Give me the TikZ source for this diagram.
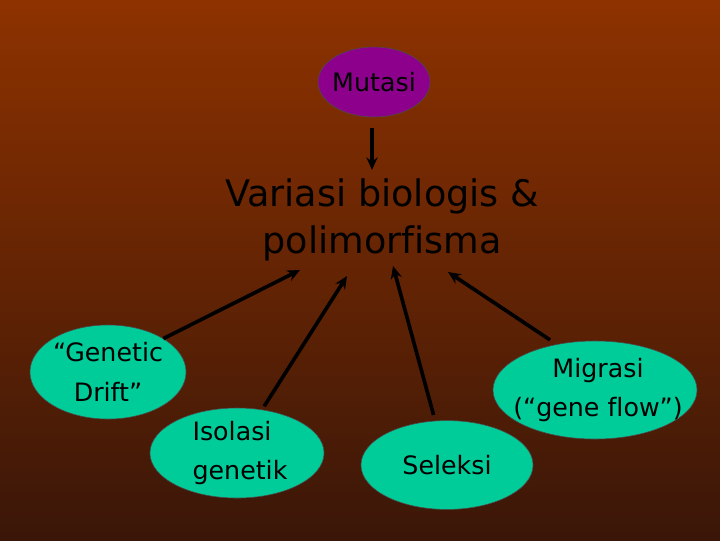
\documentclass[tikz,border=0pt]{standalone}
\usepackage{fontspec}
\setmainfont{DejaVu Sans}[Ligatures={NoCommon}]
\usetikzlibrary{shapes.geometric,arrows.meta,positioning}
\definecolor{bgtop}{RGB}{142,50,0}
\definecolor{bgbot}{RGB}{58,22,8}
\definecolor{mutfill}{RGB}{140,0,140}
\definecolor{factfill}{RGB}{0,204,153}
\tikzset{
  factor/.style={ellipse, draw=black!70, fill=factfill, inner sep=0pt},
  factext/.style={font=\fontsize{18}{28}\selectfont, align=center},
  link/.style={-{Stealth[length=9pt,width=8pt]}, line width=2.6pt, black}
}

\begin{document}
\begin{tikzpicture}[x=0.025cm, y=-0.025cm]
        \shade[top color=bgtop, bottom color=bgbot] (0,0) rectangle (720,540);
        \useasboundingbox (0,0) rectangle (720,540);
        % ellipses
        \node[factor, fill=mutfill, minimum width=2.8cm, minimum height=1.75cm] (mutasi) at (374,82) {};
        \node[factor, minimum width=3.9cm, minimum height=2.35cm] (drift) at (108,372) {};
        \node[factor, minimum width=4.35cm, minimum height=2.25cm] (isolasi) at (237,453) {};
        \node[factor, minimum width=4.3cm, minimum height=2.22cm] (seleksi) at (447,465) {};
        \node[factor, minimum width=5.1cm, minimum height=2.45cm] (migrasi) at (595,390) {};
        % texts
        \node[factext] (mutasitext) at (mutasi) {Mutasi};
        \node[align=center, font=\fontsize{26}{33}\selectfont] (variasi) at (382,220) {Variasi biologis \&\\polimorfisma};
        \node[factext] (drifttext) at (drift) {“Genetic\\Drift”};
        \node[factext, align=left] (isolasitext) at (240,453) {Isolasi\\genetik};
        \node[factext] (seleksitext) at (seleksi) {Seleksi};
        \node[factext] (migrasitext) at (598,390) {Migrasi\\(“gene flow”)};
        % arrow heads
        \coordinate (h0) at (372,170);
        \coordinate (h1) at (300,270);
        \coordinate (h2) at (347,276);
        \coordinate (h3) at (393,266);
        \coordinate (h4) at (448,272);
        % arrows
        \draw[link, shorten <=0.27cm] (mutasi.south -| h0) -- (h0);
        \draw[link] (drift.north east) -- (h1);
        \draw[link, shorten <=0.1cm] (isolasi.60) -- (h2);
        \draw[link, shorten <=0.15cm] (seleksi.105) -- (h3);
        \draw[link, shorten <=0.2cm] (migrasi.130) -- (h4);
\end{tikzpicture}
\end{document}
